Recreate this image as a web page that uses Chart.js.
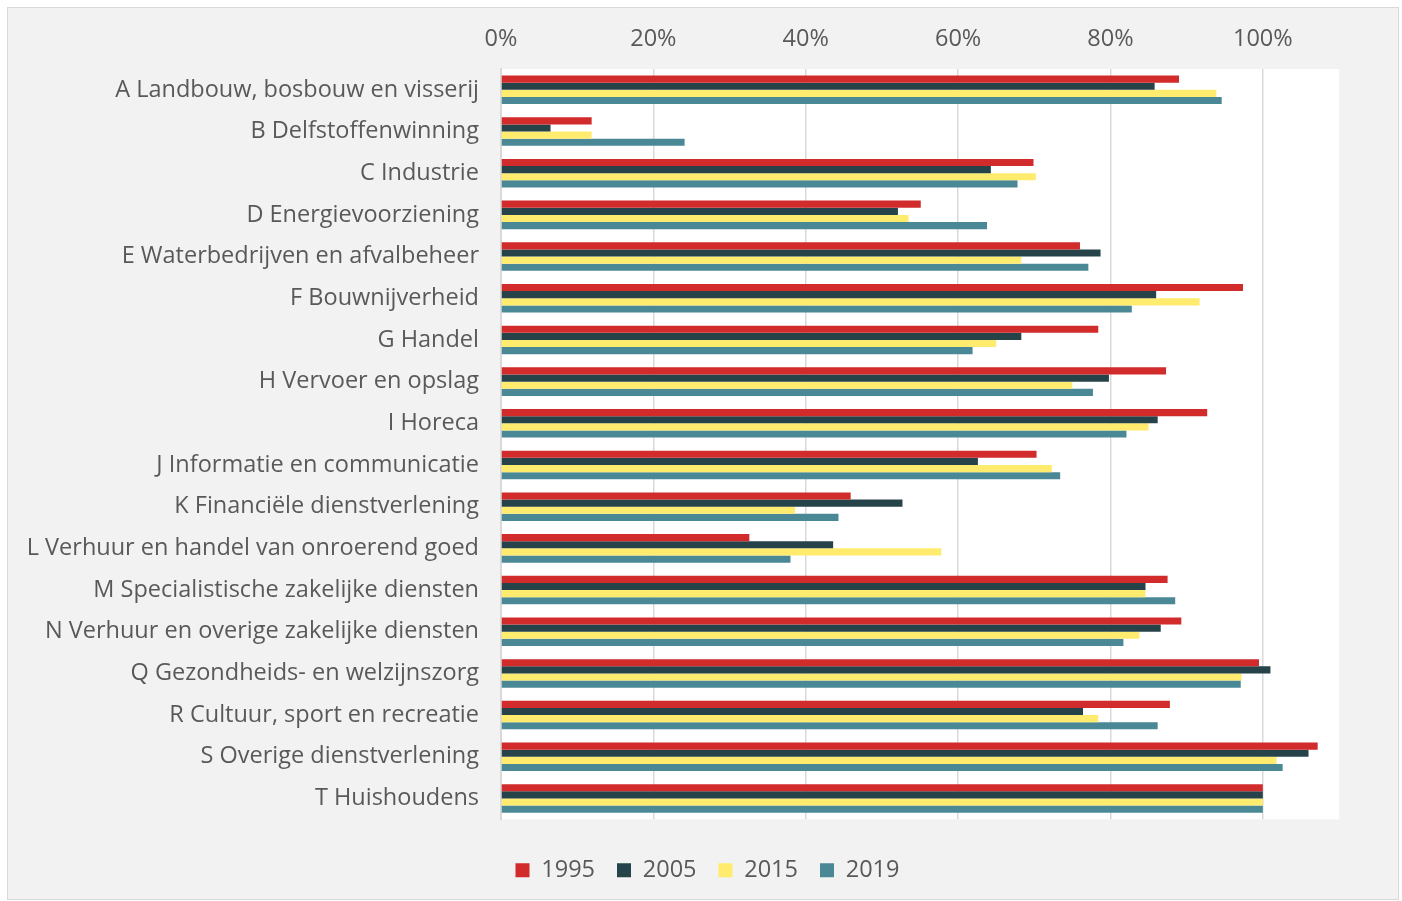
<!DOCTYPE html>
<html>
<head>
<meta charset="utf-8">
<script src="https://cdn.jsdelivr.net/npm/chart.js@4"></script>
<style>
  html, body { margin: 0; padding: 0; background: #ffffff; }
  #wrap { position: absolute; left: 7px; top: 7px; width: 1390px; height: 891px; border: 1px solid #d9d9d9; background: #f2f2f2; }
  canvas { display: block; }
</style>
</head>
<body>
<div id="wrap"><canvas id="c" width="1390" height="891"></canvas></div>
<script>
const categories = [
  "A Landbouw, bosbouw en visserij",
  "B Delfstoffenwinning",
  "C Industrie",
  "D Energievoorziening",
  "E Waterbedrijven en afvalbeheer",
  "F Bouwnijverheid",
  "G Handel",
  "H Vervoer en opslag",
  "I Horeca",
  "J Informatie en communicatie",
  "K Financiële dienstverlening",
  "L Verhuur en handel van onroerend goed",
  "M Specialistische zakelijke diensten",
  "N Verhuur en overige zakelijke diensten",
  "Q Gezondheids- en welzijnszorg",
  "R Cultuur, sport en recreatie",
  "S Overige dienstverlening",
  "T Huishoudens"
];
const seriesNames = ["1995", "2005", "2015", "2019"];
const v1995 = [89.0, 11.9, 69.9, 55.1, 76.0, 97.4, 78.4, 87.3, 92.7, 70.3, 45.9, 32.6, 87.5, 89.3, 99.5, 87.8, 107.2, 100];
const v2005 = [85.8, 6.5, 64.3, 52.1, 78.7, 86.0, 68.3, 79.8, 86.2, 62.6, 52.7, 43.6, 84.6, 86.6, 101.0, 76.4, 106.0, 100];
const v2015 = [93.9, 11.9, 70.2, 53.5, 68.3, 91.7, 65.0, 75.0, 85.0, 72.3, 38.6, 57.8, 84.6, 83.8, 97.2, 78.4, 101.8, 100];
const v2019 = [94.6, 24.1, 67.8, 63.8, 77.1, 82.8, 61.9, 77.7, 82.1, 73.4, 44.3, 38.0, 88.5, 81.7, 97.1, 86.2, 102.6, 100];
const xTicks = [0, 20, 40, 60, 80, 100];
const colors = ["#d22b2b", "#26434a", "#ffeb6e", "#4a8896"];

const FONT = "'Open Sans', sans-serif";
const TEXT = "#595959";
const FS = 23.5;
const LEGEND_SHIFT = 34;

const plotBg = {
  id: "plotBg",
  beforeDraw(chart) {
    const { ctx, chartArea } = chart;
    ctx.save();
    ctx.fillStyle = "#ffffff";
    ctx.fillRect(chartArea.left, chartArea.top, chartArea.right - chartArea.left, chartArea.bottom - chartArea.top);
    ctx.restore();
  }
};

const legendShift = {
  id: "legendShift",
  afterLayout(chart) {
    if (chart.legend) {
      chart.legend.left += LEGEND_SHIFT;
      chart.legend.right += LEGEND_SHIFT;
    }
  }
};

const allSeries = [v1995, v2005, v2015, v2019];
new Chart(document.getElementById("c"), {
  type: "bar",
  data: {
    labels: categories,
    datasets: allSeries.map((d, i) => ({
      label: seriesNames[i],
      data: d,
      backgroundColor: colors[i],
      borderWidth: 0,
      categoryPercentage: 0.685,
      barPercentage: 1.0
    }))
  },
  options: {
    indexAxis: "y",
    responsive: false,
    animation: false,
    layout: { padding: { left: 0, right: 59, top: 0, bottom: 7 } },
    plugins: {
      legend: {
        position: "bottom",
        title: { display: true, text: "", font: { size: 1 }, padding: { top: 0, bottom: 16 } },
        labels: {
          font: { family: FONT, size: FS },
          color: TEXT,
          boxWidth: 14,
          boxHeight: 14,
          padding: 22
        }
      },
      tooltip: { enabled: false }
    },
    scales: {
      x: {
        position: "top",
        min: 0,
        max: 110,
        afterBuildTicks(scale) { scale.ticks = xTicks.map(v => ({ value: v })); },
        afterFit(scale) { scale.height = 61; },
        ticks: {
          font: { family: FONT, size: FS },
          color: TEXT,
          padding: 16,
          callback: v => v + "%"
        },
        grid: { color: "#d9d9d9", lineWidth: 1.5, drawTicks: false },
        border: { display: false }
      },
      y: {
        afterFit(scale) { scale.width = 493; },
        ticks: {
          font: { family: FONT, size: FS },
          color: TEXT,
          padding: 22,
          autoSkip: false
        },
        grid: { display: false, drawTicks: false },
        border: { display: true, color: "#d9d9d9", width: 2 }
      }
    }
  },
  plugins: [plotBg, legendShift]
});
</script>
</body>
</html>
